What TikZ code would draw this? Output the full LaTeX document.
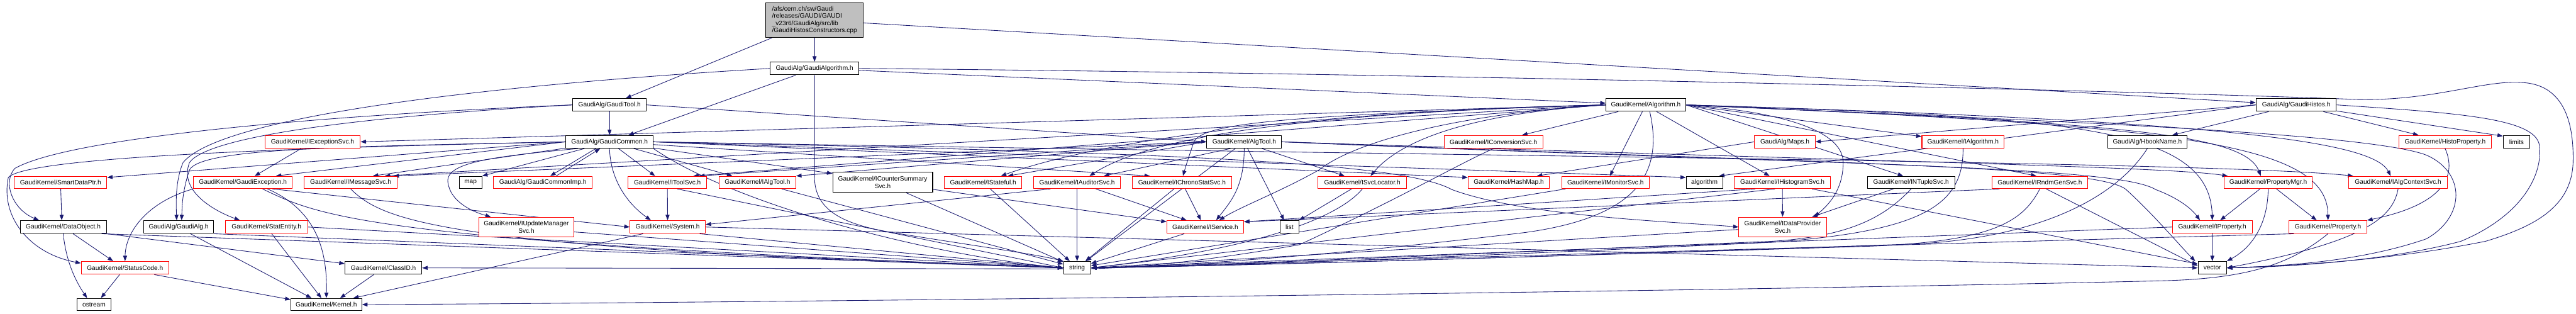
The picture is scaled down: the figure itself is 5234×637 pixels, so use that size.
\documentclass[tikz,border=0pt]{standalone}
\usepackage{fontspec}
\setmainfont{Liberation Sans}
\usetikzlibrary{arrows.meta}
\definecolor{eblue}{HTML}{191970}
\definecolor{rootgray}{HTML}{BFBFBF}
\pgfdeclarelayer{bg}
\pgfsetlayers{bg,main}
\newcommand\nd[7]{\node[#1,minimum width={(#5-#3)*1pt},minimum height={(#6-#4)*1pt}] (#2) at ({(#3+#5)/2},{(#4+#6)/2}) {#7};}
\begin{document}
\begin{tikzpicture}[x=1pt,y=-1pt,
  bbox/.style={draw=black,line width=1.3pt,fill=white,inner sep=0pt,align=center,font=\fontsize{13}{14.7}\selectfont},
  rbox/.style={bbox,draw=red},
  gbox/.style={bbox,fill=rootgray,align=left},
  e/.style={draw=eblue,line width=1.1pt,-{Triangle[length=11pt,width=8pt]}}]
\useasboundingbox (0,0) rectangle (5234,637);
% nodes
\nd{gbox}{root}{1556}{6}{1754}{76}{/afs/cern.ch/sw/Gaudi\\/releases/GAUDI/GAUDI\\\_v23r6/GaudiAlg/src/lib\\/GaudiHistosConstructors.cpp}
\nd{bbox}{galgo}{1565}{126}{1745}{152}{GaudiAlg/GaudiAlgorithm.h}
\nd{bbox}{gtool}{1164}{200}{1313}{226}{GaudiAlg/GaudiTool.h}
\nd{bbox}{gcommon}{1150}{275}{1327}{301}{GaudiAlg/GaudiCommon.h}
\nd{bbox}{algtool}{2452}{275}{2604}{301}{GaudiKernel/AlgTool.h}
\nd{bbox}{algorithm}{3263}{200}{3425}{226}{GaudiKernel/Algorithm.h}
\nd{bbox}{ghistos}{4584}{200}{4747}{226}{GaudiAlg/GaudiHistos.h}
\nd{rbox}{iexc}{538}{275}{732}{301}{GaudiKernel/IExceptionSvc.h}
\nd{rbox}{iconv}{2934}{275}{3135}{301}{GaudiKernel/IConversionSvc.h}
\nd{rbox}{maps}{3565}{275}{3688}{301}{GaudiAlg/Maps.h}
\nd{rbox}{ialgo}{3905}{275}{4072}{301}{GaudiKernel/IAlgorithm.h}
\nd{bbox}{hbook}{4282}{275}{4444}{301}{GaudiAlg/HbookName.h}
\nd{rbox}{histoprop}{4874}{275}{5062}{301}{GaudiKernel/HistoProperty.h}
\nd{bbox}{limits}{5086}{275}{5140}{301}{limits}
\nd{rbox}{smartdp}{29}{358}{217}{383}{GaudiKernel/SmartDataPtr.h}
\nd{rbox}{gexc}{393}{358}{594}{383}{GaudiKernel/GaudiException.h}
\nd{rbox}{imsg}{618}{358}{807}{383}{GaudiKernel/IMessageSvc.h}
\nd{bbox}{map}{933}{358}{979}{383}{map}
\nd{rbox}{gcimp}{1003}{358}{1203}{383}{GaudiAlg/GaudiCommonImp.h}
\nd{rbox}{itoolsvc}{1276}{358}{1436}{383}{GaudiKernel/IToolSvc.h}
\nd{rbox}{ialgtool}{1461}{358}{1617}{383}{GaudiKernel/IAlgTool.h}
\nd{bbox}{icounter}{1692}{350}{1895}{391}{GaudiKernel/ICounterSummary\\Svc.h}
\nd{rbox}{istateful}{1919}{358}{2076}{383}{GaudiKernel/IStateful.h}
\nd{rbox}{iauditor}{2100}{358}{2277}{383}{GaudiKernel/IAuditorSvc.h}
\nd{rbox}{ichrono}{2301}{358}{2502}{383}{GaudiKernel/IChronoStatSvc.h}
\nd{rbox}{isvcloc}{2678}{358}{2858}{383}{GaudiKernel/ISvcLocator.h}
\nd{rbox}{hashmap}{2983}{358}{3148}{383}{GaudiKernel/HashMap.h}
\nd{rbox}{imonitor}{3173}{358}{3351}{383}{GaudiKernel/IMonitorSvc.h}
\nd{bbox}{algorithmstd}{3426}{358}{3500}{383}{algorithm}
\nd{rbox}{ihisto}{3524}{358}{3719}{383}{GaudiKernel/IHistogramSvc.h}
\nd{bbox}{intuple}{3794}{358}{3972}{383}{GaudiKernel/INTupleSvc.h}
\nd{rbox}{irndm}{4047}{358}{4242}{383}{GaudiKernel/IRndmGenSvc.h}
\nd{rbox}{propmgr}{4519}{358}{4698}{383}{GaudiKernel/PropertyMgr.h}
\nd{rbox}{ialgctx}{4772}{358}{4973}{383}{GaudiKernel/IAlgContextSvc.h}
\nd{bbox}{dataobj}{41}{448}{216}{474}{GaudiKernel/DataObject.h}
\nd{bbox}{gaudialg}{292}{448}{434}{474}{GaudiAlg/GaudiAlg.h}
\nd{rbox}{statent}{458}{448}{625}{474}{GaudiKernel/StatEntity.h}
\nd{rbox}{iupdate}{973}{441}{1166}{481}{GaudiKernel/IUpdateManager\\Svc.h}
\nd{rbox}{system}{1280}{448}{1433}{474}{GaudiKernel/System.h}
\nd{rbox}{iservice}{2371}{448}{2527}{474}{GaudiKernel/IService.h}
\nd{bbox}{list}{2601}{448}{2639}{474}{list}
\nd{rbox}{idataprov}{3533}{441}{3711}{481}{GaudiKernel/IDataProvider\\Svc.h}
\nd{rbox}{iprop}{4414}{448}{4576}{474}{GaudiKernel/IProperty.h}
\nd{rbox}{prop}{4651}{448}{4809}{474}{GaudiKernel/Property.h}
\nd{rbox}{statuscode}{165}{531}{343}{557}{GaudiKernel/StatusCode.h}
\nd{bbox}{classid}{701}{531}{857}{557}{GaudiKernel/ClassID.h}
\nd{bbox}{string}{2161}{531}{2216}{557}{string}
\nd{bbox}{vector}{4466}{531}{4524}{557}{vector}
\nd{bbox}{ostream}{157}{606}{225}{631}{ostream}
\nd{bbox}{kernel}{591}{606}{735}{631}{GaudiKernel/Kernel.h}
\begin{pgfonlayer}{bg}
\fill[white] (0,0) rectangle (5234,637);
% root
\draw[e] (root) -- (gtool);
\draw[e] (root) -- (galgo);
\draw[e] (root) -- (ghistos);
% GaudiAlgorithm
\draw[e] (galgo) -- (gcommon);
\draw[e] (galgo) -- (algorithm);
\draw[e] (galgo.west) .. controls (1000,172) and (450,235) .. (372,330) .. controls (355,370) and (358,420) .. ([xshift=-4pt]gaudialg.north);
\draw[e] (galgo.south) -- (1655,360) .. controls (1655,430) and (1720,455) .. (1800,470) .. controls (1950,495) and (2100,515) .. (string.north west);
\draw[e] (galgo.east) .. controls (3000,150) and (4500,190) .. (4790,202) .. controls (4950,205) and (5050,160) .. (5130,168) .. controls (5210,175) and (5230,250) .. (5228,330) .. controls (5225,420) and (5150,460) .. (5050,490) .. controls (4850,530) and (4650,540) .. (vector.east);
% GaudiTool
\draw[e] (gtool) -- (gcommon);
\draw[e] (gtool.east) -- (algtool.west);
\draw[e] (gtool.west) .. controls (700,232) and (150,275) .. (30,342) .. controls (5,370) and (25,425) .. ([xshift=39pt]dataobj.north west);
\draw[e] (gtool.west) .. controls (700,238) and (420,280) .. (385,330) .. controls (362,390) and (440,430) .. ([xshift=30pt]statent.north west);
% GaudiCommon
\draw[e] (gcommon.west) .. controls (700,298) and (410,300) .. (385,345) .. controls (370,390) and (370,420) .. ([xshift=6pt]gaudialg.north);
\draw[e] (gcommon.west) -- ([yshift=-3pt]smartdp.north east);
\draw[e] (gcommon.west) -- ([xshift=-34pt]gexc.north east);
\draw[e] (gcommon) -- ([xshift=-50pt]imsg.north east);
\draw[e] (gcommon) -- (map.north east);
\draw[e] ([xshift=-28pt]gcommon.south) -- ([xshift=15pt]gcimp.north);
\draw[e] ([xshift=27pt]gcimp.north) -- ([xshift=-19pt]gcommon.south);
\draw[e] (gcommon) -- ([xshift=-25pt]itoolsvc.north);
\draw[e] (gcommon) -- ([xshift=-51pt]ialgtool.north);
\draw[e] (gcommon) -- ([yshift=-3pt]icounter.north west);
\draw[e] ([xshift=25pt]gcommon.south west) .. controls (1000,318) and (905,330) .. (910,370) .. controls (915,410) and (960,430) .. ([xshift=25pt]iupdate.north west);
\draw[e] (gcommon.south) .. controls (1240,360) and (1270,410) .. ([xshift=-34pt]system.north);
\draw[e] (gcommon.west) .. controls (600,300) and (60,318) .. (17,360) .. controls (0,440) and (60,515) .. ([yshift=-4pt]statuscode.north west);
\draw[e] (gcommon) -- ([xshift=-65pt]ichrono.north);
\draw[e] (gcommon.east) .. controls (2400,310) and (2850,330) .. (2950,385) .. controls (3100,440) and (3400,450) .. (idataprov.west);
\draw[e] (gcommon.east) -- ([yshift=-3pt]hashmap.north west);
\draw[e] (gcommon.east) -- ([yshift=-3pt]algorithmstd.north west);
\draw[e] (gcommon.east) .. controls (3000,318) and (4500,328) .. ([xshift=10pt]ialgctx.north west);
\draw[e] (gcommon.south east) .. controls (1500,420) and (1900,520) .. (string.west);
% Algorithm
\draw[e] (algorithm.west) -- (iexc.east);
\draw[e] (algorithm) -- ([xshift=58pt]iconv.north);
\draw[e] (algorithm.west) -- ([xshift=-26pt]imsg.north east);
\draw[e] (algorithm.west) -- ([xshift=-28pt]itoolsvc.north east);
\draw[e] (algorithm.west) .. controls (2700,225) and (2250,280) .. ([xshift=-43pt]istateful.north east);
\draw[e] (algorithm.west) .. controls (2700,228) and (2350,270) .. ([xshift=-64pt]iauditor.north east);
\draw[e] (algorithm.west) .. controls (2600,235) and (2440,250) .. (2425,290) .. controls (2415,320) and (2410,335) .. ([xshift=2pt]ichrono.north);
\draw[e] (algorithm.west) .. controls (3000,230) and (2850,280) .. ([xshift=-74pt]isvcloc.north east);
\draw[e] (algorithm.west) .. controls (2950,232) and (2750,290) .. (2680,345) .. controls (2600,390) and (2520,420) .. ([xshift=28pt]iservice.north);
\draw[e] ([xshift=-7pt]algorithm.south) -- ([xshift=9pt]imonitor.north);
\draw[e] ([xshift=22pt]algorithm.south) -- ([xshift=-26pt]ihisto.north);
\draw[e] (algorithm.east) -- ([xshift=-16pt]intuple.north);
\draw[e] (algorithm.east) -- ([xshift=-7pt]irndm.north);
\draw[e] (algorithm.east) .. controls (3600,225) and (3745,260) .. (3745,330) .. controls (3745,390) and (3710,420) .. ([xshift=-25pt]idataprov.north east);
\draw[e] (algorithm.east) -- ([yshift=-3pt]ialgo.north west);
\draw[e] (algorithm.east) .. controls (4200,238) and (4490,255) .. (iprop.north);
\draw[e] (algorithm.east) .. controls (4300,250) and (4560,270) .. ([xshift=-15pt]propmgr.north);
\draw[e] (algorithm.east) .. controls (4400,255) and (4730,285) .. (prop.north);
\draw[e] (algorithm.east) .. controls (4500,245) and (4820,285) .. ([xshift=-15pt]ialgctx.north);
\draw[e] (algorithm.east) .. controls (4000,240) and (4800,265) .. (4930,315) .. controls (5010,350) and (5010,440) .. (4930,485) .. controls (4800,530) and (4650,540) .. (vector.east);
\draw[e] ([xshift=8pt]algorithm.south) .. controls (3380,350) and (3330,440) .. (3100,472) .. controls (2700,520) and (2400,540) .. (string.east);
% AlgTool
\draw[e] (algtool.west) -- ([xshift=-8pt]imsg.north east);
\draw[e] (algtool.west) -- ([xshift=-16pt]itoolsvc.north east);
\draw[e] (algtool.west) -- (ialgtool.north east);
\draw[e] (algtool.west) -- ([xshift=-29pt]istateful.north east);
\draw[e] ([xshift=-28pt]algtool.south) -- ([xshift=-35pt]iauditor.north east);
\draw[e] (algtool.south) .. controls (2528,380) and (2500,410) .. ([xshift=22pt]iservice.north);
\draw[e] ([xshift=7pt]algtool.south) -- ([xshift=-11pt]list.north);
\draw[e] ([xshift=36pt]algtool.south) -- ([xshift=-36pt]isvcloc.north);
\draw[e] (algtool.east) .. controls (3800,328) and (4400,338) .. ([xshift=8pt]propmgr.north west);
\draw[e] (algtool.east) .. controls (3700,335) and (4300,335) .. (4380,385) .. controls (4420,400) and (4450,420) .. ([xshift=-25pt]iprop.north);
\draw[e] (algtool.east) .. controls (3700,332) and (4260,335) .. (4320,385) .. controls (4380,440) and (4430,500) .. ([xshift=-5pt]vector.north west);
\draw[e] (algtool) -- (string);
% GaudiHistos
\draw[e] (ghistos.west) -- (maps.east);
\draw[e] (ghistos.west) -- ([xshift=-8pt]algorithmstd.north east);
\draw[e] (ghistos) -- ([xshift=-31pt]hbook.north east);
\draw[e] (ghistos) -- ([xshift=-54pt]histoprop.north);
\draw[e] (ghistos) -- ([yshift=-2pt]limits.north west);
\draw[e] (ghistos.east) .. controls (5000,230) and (5160,240) .. (5160,300) .. controls (5165,360) and (5120,440) .. (5000,490) .. controls (4850,530) and (4650,542) .. (vector.east);
% others
\draw[e] (iexc) -- ([xshift=24pt]gexc.north);
\draw[e] ([xshift=60pt]gexc.south) -- (system.west);
\draw[e] (gexc.south west) .. controls (300,410) and (255,470) .. (statuscode.north);
\draw[e] ([xshift=50pt]gexc.south) .. controls (650,430) and (665,520) .. (kernel.north);
\draw[e] ([xshift=40pt]gexc.south) .. controls (650,440) and (750,490) .. (string.west);
\draw[e] (imsg.south) .. controls (780,450) and (900,505) .. (string.west);
\draw[e] (smartdp) -- ([xshift=-3pt]dataobj.north);
\draw[e] (dataobj) -- ([xshift=-24pt]statuscode.north);
\draw[e] (dataobj.south) .. controls (135,540) and (160,580) .. ([xshift=-14pt]ostream.north);
\draw[e] (dataobj.south east) -- ([yshift=-5pt]classid.north west);
\draw[e] ([xshift=-10pt]dataobj.south east) -- (string.west);
\draw[e] (statuscode) -- ([xshift=14pt]ostream.north);
\draw[e] ([xshift=-30pt]statuscode.south east) -- ([yshift=-3pt]kernel.north west);
\draw[e] ([xshift=24pt]gaudialg.south) -- ([xshift=-30pt]kernel.north);
\draw[e] (statent) -- ([xshift=-10pt]kernel.north);
\draw[e] (classid) -- ([xshift=28pt]kernel.north);
\draw[e] (gaudialg.south east) -- (string.west);
\draw[e] (statent.east) -- (string.west);
\draw[e] ([xshift=-50pt]system.south) -- ([xshift=-18pt]kernel.north east);
\draw[e] ([xshift=-12pt]system.south east) -- (string.west);
\draw[e] (system.east) -- (vector.west);
\draw[e] (itoolsvc) -- (system);
\draw[e] ([xshift=20pt]itoolsvc.south) -- (string.west);
\draw[e] (ialgtool) -- (string);
\draw[e] ([yshift=-10pt]iupdate.east) -- (string.west);
\draw[e] (icounter) -- (string);
\draw[e] (icounter) -- ([yshift=-3pt]iservice.north west);
\draw[e] (istateful) -- (string);
\draw[e] (iauditor) -- (string);
\draw[e] (iauditor) -- ([xshift=-38pt]iservice.north);
\draw[e] ([xshift=35pt]iauditor.south west) -- ([yshift=5pt]system.east);
\draw[e] (ichrono) -- (string);
\draw[e] (ichrono) -- ([xshift=-9pt]iservice.north);
\draw[e] (iservice) -- (string);
\draw[e] (isvcloc) -- (list.north east);
\draw[e] (isvcloc.south) .. controls (2730,430) and (2600,500) .. (string.east);
\draw[e] (iconv.south) .. controls (2950,340) and (2850,400) .. (2640,497) .. controls (2450,530) and (2300,546) .. (2188,546) -- (classid.east);
\draw[e] (maps.west) -- ([xshift=-26pt]hashmap.north east);
\draw[e] (imonitor) -- (string);
\draw[e] (ihisto) -- (idataprov);
\draw[e] ([xshift=-55pt]ihisto.south) -- ([yshift=-3pt]iservice.north east);
\draw[e] ([xshift=-15pt]ihisto.south) -- (string.east);
\draw[e] ([xshift=60pt]ihisto.south) -- ([yshift=8pt]vector.west);
\draw[e] ([xshift=-36pt]intuple.south) -- ([xshift=-30pt]idataprov.north east);
\draw[e] (intuple.south) .. controls (3830,440) and (3760,480) .. (3600,490) .. controls (3000,515) and (2500,538) .. (string.east);
\draw[e] ([xshift=-82pt]irndm.south) -- ([yshift=-3pt]iservice.north east);
\draw[e] (irndm.south) .. controls (4110,450) and (4050,490) .. (3800,500) .. controls (3000,525) and (2500,540) .. (string.east);
\draw[e] ([xshift=13pt]irndm.south) -- ([yshift=4pt]vector.west);
\draw[e] ([yshift=-5pt]idataprov.west) -- (string.east);
\draw[e] (ialgo.south) .. controls (3990,420) and (3900,470) .. (3600,492) .. controls (3000,520) and (2500,540) .. (string.east);
\draw[e] (hbook.south) .. controls (4300,400) and (4150,480) .. (3900,495) .. controls (3200,520) and (2500,540) .. (string.east);
\draw[e] (propmgr) -- ([xshift=16pt]iprop.north);
\draw[e] (propmgr) -- ([xshift=-23pt]prop.north);
\draw[e] (propmgr.south) .. controls (4608,450) and (4580,500) .. (vector.north east);
\draw[e] (ialgctx.south) .. controls (4862,440) and (4810,490) .. (vector.east);
\draw[e] (iprop) -- (vector);
\draw[e] (iprop.west) -- (string.east);
\draw[e] ([xshift=10pt]prop.south west) -- (string.east);
\draw[e] (prop.south) .. controls (4650,540) and (4560,565) .. (4400,570) .. controls (3500,592) and (1500,615) .. (kernel.east);
\draw[e] (histoprop.south) .. controls (4985,340) and (4990,410) .. (prop.north east);
\end{pgfonlayer}
\end{tikzpicture}
\end{document}
